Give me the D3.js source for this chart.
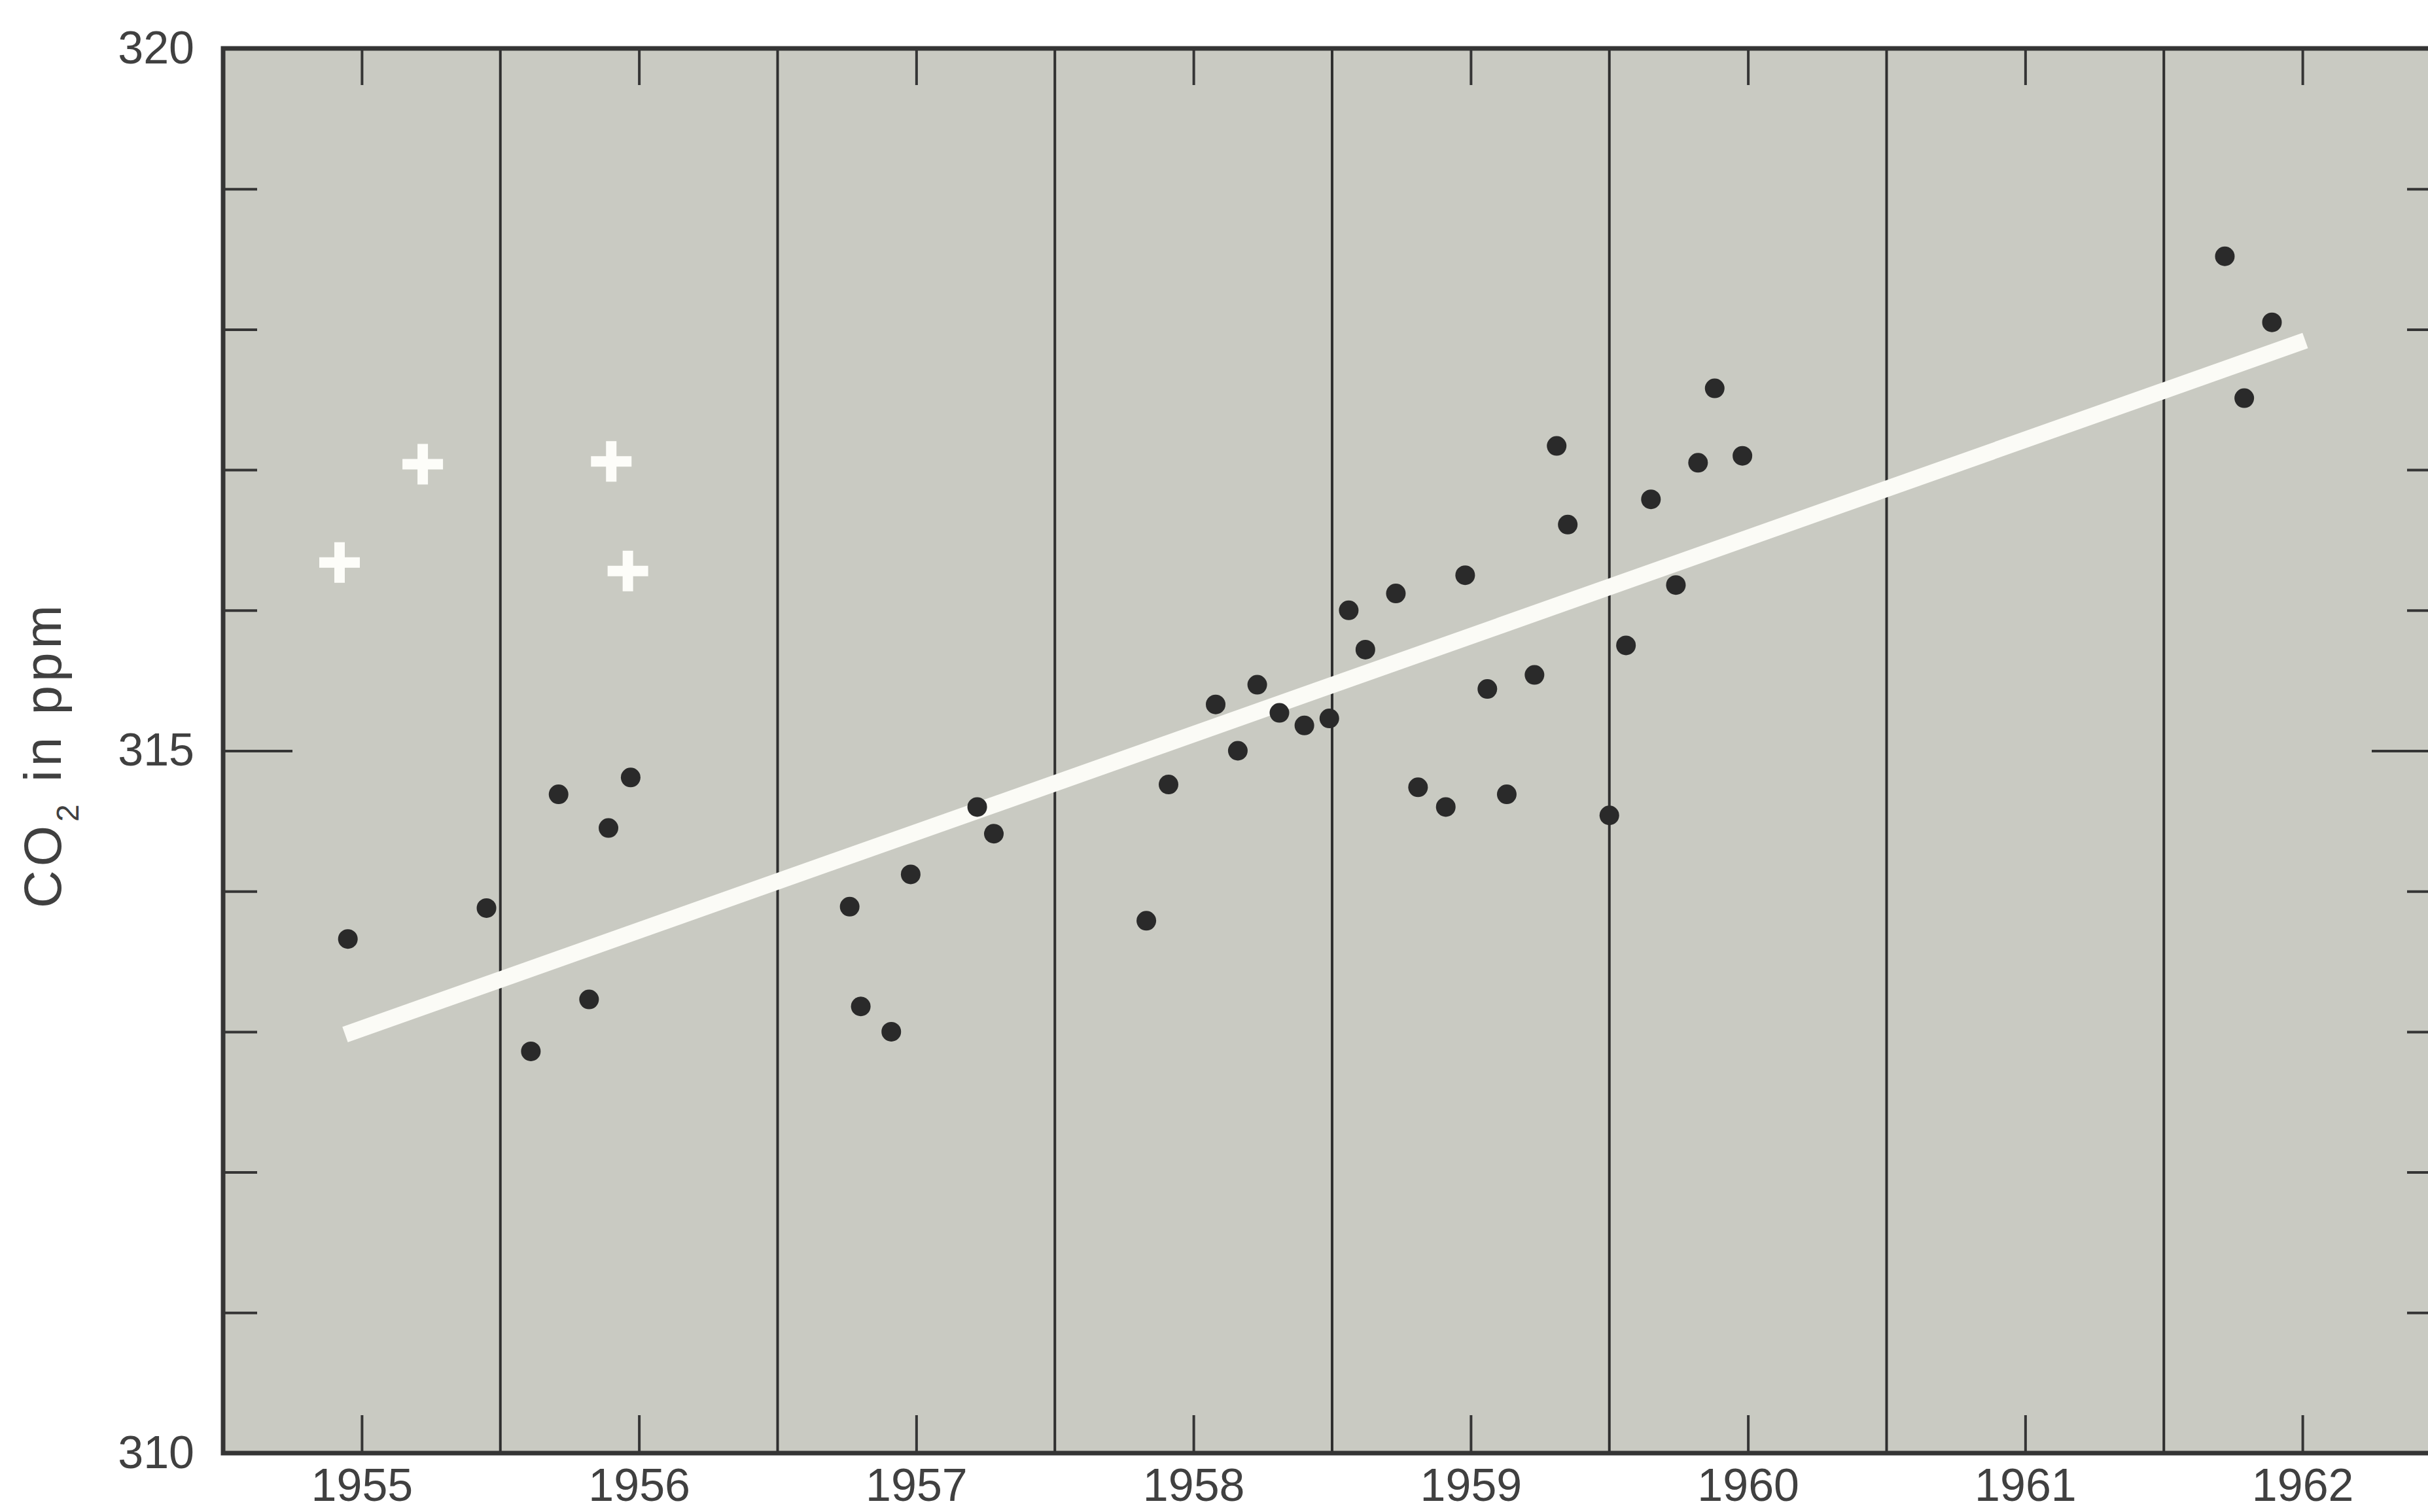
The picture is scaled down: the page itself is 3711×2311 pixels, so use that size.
<!DOCTYPE html>
<html>
<head>
<meta charset="utf-8">
<script src="https://cdn.jsdelivr.net/npm/d3@7"></script>
<style>
  body { margin: 0; background: #ffffff; }
  text { font-family: "Liberation Sans", Arial, sans-serif; fill: #3f3f3f; }
</style>
</head>
<body>
<div id="chart"></div>
<script>

// measured points (decimal year, CO2 ppm)
var dotYears = [1955.45, 1955.95, 1956.11, 1956.21, 1956.32, 1956.39, 1956.47,
  1957.26, 1957.30, 1957.41, 1957.48, 1957.72, 1957.78,
  1958.33, 1958.41, 1958.58, 1958.66, 1958.73, 1958.81, 1958.90, 1958.99,
  1959.06, 1959.12, 1959.23, 1959.31, 1959.41, 1959.48, 1959.56, 1959.63, 1959.73, 1959.81, 1959.85, 1960.00,
  1960.06, 1960.15, 1960.24, 1960.32, 1960.38, 1960.48,
  1962.22, 1962.29, 1962.39];
var dotCO2 = [313.66, 313.88, 312.86, 314.69, 313.23, 314.45, 314.81,
  313.89, 313.18, 313.00, 314.12, 314.60, 314.41,
  313.79, 314.76, 315.33, 315.00, 315.47, 315.27, 315.18, 315.23,
  316.00, 315.72, 316.12, 314.74, 314.60, 316.25, 315.44, 314.69, 315.54, 317.17, 316.61, 314.54,
  315.75, 316.79, 316.18, 317.05, 317.58, 317.10,
  318.52, 317.51, 318.05];

// white crosses
var crossYears = [1955.42, 1955.72, 1956.40, 1956.46];
var crossCO2 = [316.34, 317.04, 317.06, 316.28];

// trend line end points
var trendYears = [1955.44, 1962.51];
var trendCO2 = [312.98, 317.92];

var yearLabels = [1955, 1956, 1957, 1958, 1959, 1960, 1961, 1962];
var yearBounds = [1956, 1957, 1958, 1959, 1960, 1961, 1962];
var yMinorTicks = [311, 312, 313, 314, 316, 317, 318, 319];
var yLabelTicks = [310, 315, 320];

var width = 3711, height = 2311;
var plotLeft = 341, plotTop = 74, plotRight = 3731, plotBottom = 2221;

var svg = d3.select("#chart").append("svg")
    .attr("width", width)
    .attr("height", height);

var x = d3.scaleLinear().domain([1955, 1963]).range([plotLeft, plotRight]);
var y = d3.scaleLinear().domain([310, 320]).range([plotBottom, plotTop]);

// grey plot area
svg.append("rect")
    .attr("x", x(1955))
    .attr("y", y(320))
    .attr("width", x(1963) - x(1955))
    .attr("height", y(310) - y(320))
    .style("fill", "#c9cac2");

// year boundaries
svg.selectAll(".divider")
    .data(yearBounds)
    .enter().append("line")
    .attr("class", "divider")
    .attr("x1", function(d) { return x(d); })
    .attr("x2", function(d) { return x(d); })
    .attr("y1", y(320))
    .attr("y2", y(310))
    .style("stroke", "#2f2f2f")
    .style("stroke-width", 4);

function cleanAxis(g) {
  g.select(".domain").remove();
  g.selectAll(".tick line").style("stroke", "#353535").style("stroke-width", 4);
  g.selectAll(".tick text").style("font-size", "70px").style("fill", "#404040")
    .style("font-family", "'Liberation Sans', Arial, sans-serif");
}

// x axis, ticks mid-year
svg.append("g")
    .attr("transform", "translate(0," + y(310) + ")")
    .call(d3.axisBottom(x)
      .tickValues(yearLabels.map(function(d) { return d + 0.5; }))
      .tickSize(-58)
      .tickPadding(23)
      .tickFormat(function(d) { return Math.floor(d); }))
    .call(cleanAxis);

svg.append("g")
    .attr("transform", "translate(0," + y(320) + ")")
    .call(d3.axisTop(x)
      .tickValues(yearLabels.map(function(d) { return d + 0.5; }))
      .tickSize(-56)
      .tickFormat(""))
    .call(cleanAxis);

// y axis ticks
var yLeft = svg.append("g")
    .attr("transform", "translate(" + x(1955) + ",0)")
    .call(d3.axisLeft(y).tickValues(yMinorTicks.concat([315])).tickSize(-52).tickFormat(""))
    .call(cleanAxis);
yLeft.selectAll(".tick").filter(function(d) { return d === 315; }).select("line").attr("x2", 106);

var yRight = svg.append("g")
    .attr("transform", "translate(" + x(1963) + ",0)")
    .call(d3.axisRight(y).tickValues(yMinorTicks.concat([315])).tickSize(-52).tickFormat(""))
    .call(cleanAxis);
yRight.selectAll(".tick").filter(function(d) { return d === 315; }).select("line").attr("x2", -106);

svg.append("g")
    .attr("transform", "translate(" + x(1955) + ",0)")
    .call(d3.axisLeft(y).tickValues(yLabelTicks).tickSize(0).tickPadding(44).tickFormat(d3.format("d")))
    .call(cleanAxis);

// frame
svg.append("rect")
    .attr("x", x(1955))
    .attr("y", y(320))
    .attr("width", x(1963) - x(1955))
    .attr("height", y(310) - y(320))
    .style("fill", "none")
    .style("stroke", "#353535")
    .style("stroke-width", 7);

// trend line
var trend = trendYears.map(function(d, i) { return [d, trendCO2[i]]; });
svg.append("path")
    .datum(trend)
    .attr("d", d3.line().x(function(d) { return x(d[0]); }).y(function(d) { return y(d[1]); }))
    .style("stroke", "#fbfbf6")
    .style("stroke-width", 25)
    .style("stroke-linecap", "butt")
    .style("fill", "none");

// dots
var dots = dotYears.map(function(d, i) { return {year: d, co2: dotCO2[i]}; });
svg.selectAll(".dot")
    .data(dots)
    .enter().append("circle")
    .attr("class", "dot")
    .attr("cx", function(d) { return x(d.year); })
    .attr("cy", function(d) { return y(d.co2); })
    .attr("r", 15)
    .style("fill", "#2a2a2a");

// crosses
var crosses = crossYears.map(function(d, i) { return {year: d, co2: crossCO2[i]}; });
var arm = 31;
svg.selectAll(".cross")
    .data(crosses)
    .enter().append("path")
    .attr("class", "cross")
    .attr("d", function(d) {
      var cx = x(d.year), cy = y(d.co2);
      return "M" + (cx - arm) + "," + cy + "H" + (cx + arm) +
             "M" + cx + "," + (cy - arm) + "V" + (cy + arm);
    })
    .style("stroke", "#fdfdf9")
    .style("stroke-width", 16)
    .style("fill", "none");

// y label
var yLabel = svg.append("text")
    .attr("transform", "translate(93," + ((y(310) + y(320)) / 2 + 6) + ") rotate(-90)")
    .attr("text-anchor", "middle")
    .style("font-size", "80px")
    .style("letter-spacing", "6px")
    .style("fill", "#404040");
yLabel.append("tspan").text("CO");
yLabel.append("tspan")
    .attr("baseline-shift", "sub")
    .style("font-size", "48px")
    .text("2");
yLabel.append("tspan").text(" in ppm");

</script>
</body>
</html>
